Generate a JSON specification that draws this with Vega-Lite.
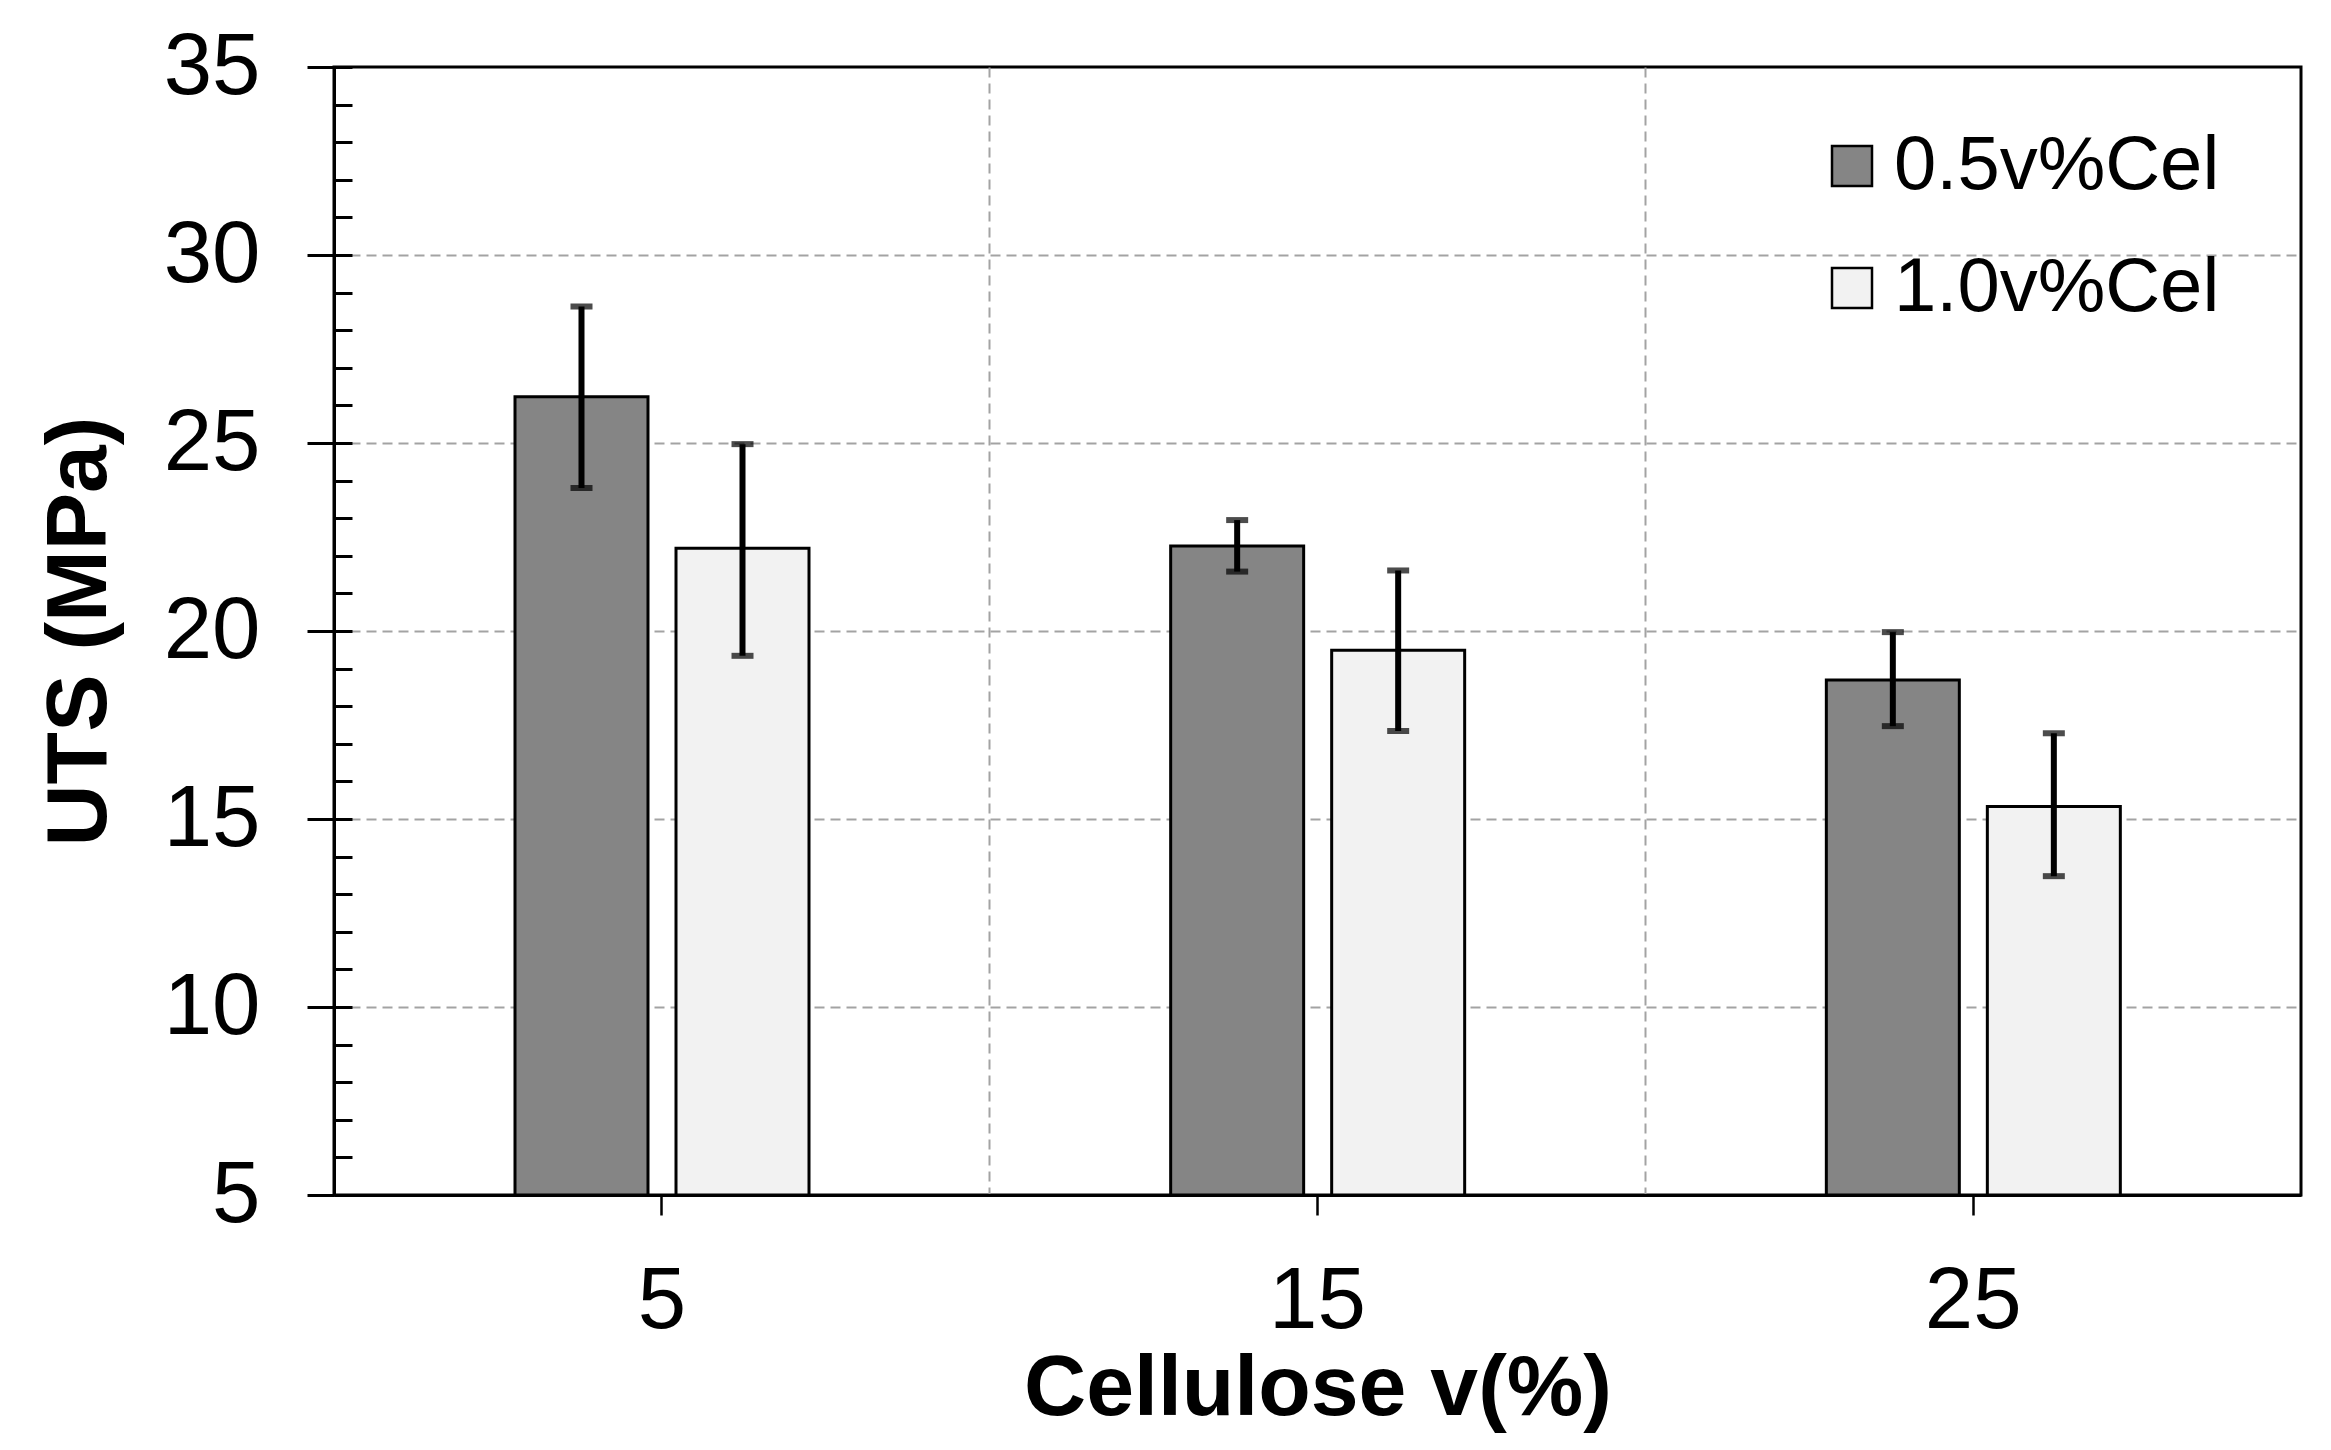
{
  "$schema": "https://vega.github.io/schema/vega-lite/v6.json",
  "autosize": {"type": "none"},
  "padding": {"left": 334, "top": 67, "right": 30, "bottom": 255},
  "width": 1967,
  "height": 1128,
  "background": "white",
  "config": {
    "font": "Liberation Sans",
    "view": {"stroke": "black", "strokeWidth": 3},
    "axis": {
      "labelColor": "black",
      "titleColor": "black",
      "labelFont": "Liberation Sans",
      "titleFont": "Liberation Sans",
      "labelFontSize": 87,
      "titleFontSize": 86,
      "titleFontWeight": "bold",
      "domainColor": "black",
      "domainWidth": 3,
      "tickColor": "black",
      "tickWidth": 3,
      "gridColor": "#a3a3a3",
      "gridWidth": 2,
      "gridDash": [10, 6]
    },
    "legend": {
      "orient": "none",
      "legendX": 1480,
      "legendY": 61,
      "padding": 0,
      "symbolType": "square",
      "symbolSize": 1600,
      "symbolStrokeColor": "black",
      "symbolStrokeWidth": 2.5,
      "labelFont": "Liberation Sans",
      "labelFontSize": 76,
      "labelColor": "black",
      "labelLimit": 600,
      "labelOffset": 4,
      "rowPadding": 46
    }
  },
  "data": {
    "values": [
      {"cel": 5, "series": "0.5v%Cel", "uts": 26.23, "lo": 23.8, "hi": 28.63},
      {"cel": 5, "series": "1.0v%Cel", "uts": 22.2, "lo": 19.34, "hi": 24.97},
      {"cel": 15, "series": "0.5v%Cel", "uts": 22.26, "lo": 21.58, "hi": 22.95},
      {"cel": 15, "series": "1.0v%Cel", "uts": 19.49, "lo": 17.34, "hi": 21.61},
      {"cel": 25, "series": "0.5v%Cel", "uts": 18.7, "lo": 17.47, "hi": 19.97},
      {"cel": 25, "series": "1.0v%Cel", "uts": 15.33, "lo": 13.48, "hi": 17.28}
    ]
  },
  "layer": [
    {
      "mark": {"type": "bar", "stroke": "black", "strokeWidth": 3},
      "encoding": {
        "x": {
          "field": "cel",
          "type": "ordinal",
          "scale": {"paddingInner": 0, "paddingOuter": 0},
          "axis": {
            "orient": "bottom",
            "bandPosition": 0,
            "values": [15, 25],
            "grid": true,
            "ticks": false,
            "labels": false,
            "domain": false,
            "title": null
          }
        },
        "xOffset": {
          "field": "series",
          "type": "nominal",
          "scale": {"range": [181, 475], "paddingInner": 0.174, "paddingOuter": 0}
        },
        "y": {
          "field": "uts",
          "type": "quantitative",
          "scale": {"domain": [5, 35], "zero": false, "nice": false},
          "axis": {
            "orient": "left",
            "values": [5, 10, 15, 20, 25, 30, 35],
            "tickSize": 27,
            "labelPadding": 47,
            "grid": true,
            "gridOpacity": {"condition": {"test": "datum.value == 5 || datum.value == 35", "value": 0}, "value": 1},
            "title": "UTS (MPa)",
            "titlePadding": 40
          }
        },
        "y2": {"datum": 5},
        "fill": {
          "field": "series",
          "type": "nominal",
          "scale": {"domain": ["0.5v%Cel", "1.0v%Cel"], "range": ["#858585", "#f2f2f2"]},
          "legend": {"title": null}
        }
      }
    },
    {
      "mark": {"type": "rule", "color": "black", "strokeWidth": 6},
      "encoding": {
        "x": {
          "field": "cel",
          "type": "ordinal",
          "axis": {
            "orient": "bottom",
            "labelAngle": 0,
            "tickSize": 20,
            "tickWidth": 2.5,
            "labelPadding": 43,
            "grid": false,
            "title": "Cellulose v(%)",
            "titlePadding": 2
          }
        },
        "xOffset": {"field": "series", "type": "nominal"},
        "y": {
          "field": "lo",
          "type": "quantitative",
          "axis": {
            "orient": "left",
            "values": [5, 6, 7, 8, 9, 10, 11, 12, 13, 14, 15, 16, 17, 18, 19, 20, 21, 22, 23, 24, 25, 26, 27, 28, 29, 30, 31, 32, 33, 34, 35],
            "tickSize": -18,
            "labels": false,
            "domain": false,
            "grid": false,
            "title": null
          }
        },
        "y2": {"field": "hi"}
      }
    },
    {
      "mark": {"type": "tick", "color": "black", "size": 22, "thickness": 6},
      "encoding": {
        "x": {"field": "cel", "type": "ordinal", "axis": null},
        "xOffset": {"field": "series", "type": "nominal"},
        "y": {"field": "lo", "type": "quantitative", "axis": null}
      }
    },
    {
      "mark": {"type": "tick", "color": "black", "size": 22, "thickness": 6},
      "encoding": {
        "x": {"field": "cel", "type": "ordinal", "axis": null},
        "xOffset": {"field": "series", "type": "nominal"},
        "y": {"field": "hi", "type": "quantitative", "axis": null}
      }
    }
  ],
  "resolve": {"axis": {"x": "independent", "y": "independent"}}
}
